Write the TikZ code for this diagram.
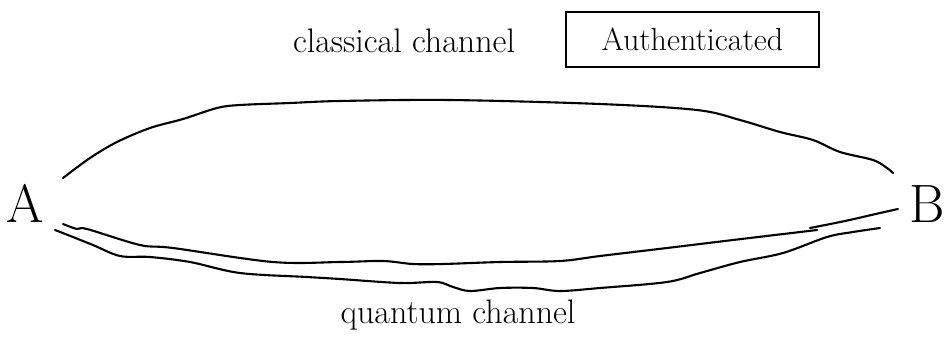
\documentclass[tikz,border=0pt]{standalone}
\begin{document}
\begin{tikzpicture}[x=1pt,y=-1pt,
  hand/.style={line width=2.1pt, line cap=round, line join=round},
  lbl/.style={inner sep=0pt, font=\fontsize{34}{40}\selectfont},
  big/.style={inner sep=0pt, font=\fontsize{54}{60}\selectfont},
  authbox/.style={draw, line width=2.1pt, minimum width=253pt, minimum height=55pt, inner sep=0pt, font=\fontsize{32}{38}\selectfont}]
\useasboundingbox (0,0) rectangle (947,338);
\clip (0,0) rectangle (947,338);
% labels
\node[big, anchor=base] (A) at (25,222) {A};
\node[big, anchor=base east] (B) at (945,222) {B};
\node[lbl, anchor=base] (cc) at (404,52) {classical channel};
\node[authbox] (auth) at (692.5,39.5) {Authenticated};
\node[lbl, anchor=base] (qc) at (458,323) {quantum channel};
% channel end points
\coordinate (u0) at (63,178);
\coordinate (u1) at (893,173);
\coordinate (q0) at (63,224);
\coordinate (q1) at (817,230);
\coordinate (t0) at (810,228);
\coordinate (t1) at (898,209);
\coordinate (r0) at (55,230);
\coordinate (r1) at (880,228);
% classical channel (upper arc)
\draw[hand] plot[smooth, tension=0.55] coordinates {(u0) (90,158) (117,142) (150,128) (183,119) (217,108) (240,105) (290,103) (340,101) (450,100) (600,104) (697,110) (740,120) (780,132) (813,140) (840,152) (873,160) (887,168) (u1)};
% quantum channel (two lower strokes)
\draw[hand] plot[smooth, tension=0.55] coordinates {(q0) (77,229) (87,229) (140,245) (173,248) (273,262) (340,262) (383,261) (413,264) (443,264) (500,262) (560,261) (600,256) (667,248) (733,240) (q1)};
\draw[hand] plot[smooth, tension=0.55] coordinates {(t0) (845,221) (880,213) (t1)};
\draw[hand] plot[smooth, tension=0.55] coordinates {(r0) (73,237) (93,245) (120,256) (150,257) (190,262) (240,273) (307,277) (340,279) (400,283) (437,282) (453,287) (470,291) (500,288) (533,288) (560,291) (600,288) (667,282) (700,273) (740,262) (783,253) (827,237) (853,232) (r1)};
\end{tikzpicture}
\end{document}
